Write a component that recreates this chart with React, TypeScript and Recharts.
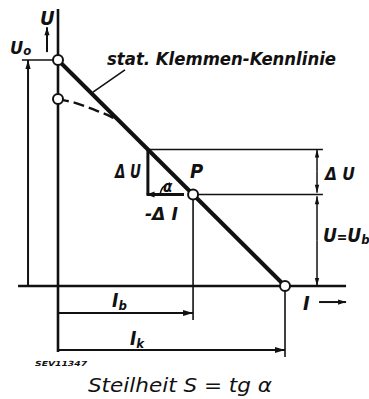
import React from 'react';
import { ComposedChart, Line, XAxis, YAxis, ReferenceLine, ReferenceDot } from 'recharts';

// characteristic values (relative units: U0 = 100, Ik = 100)
const U0 = 100;
const IK = 100;
const IB = 59.5;
const UB = 40.5;
const I_DELTA = 39.6;
const U_DELTA = 60.4;

const lineI = [0, IK];
const lineU = [U0, 0];
const droopI = [0, 6.2, 12.3, 18.5, 22.9, 27.5];
const droopU = [82.7, 81.4, 79.4, 77.0, 75.2, 72.5];

const characteristic = lineI.map((I, k) => ({ I, U: lineU[k] }));
const droop = droopI.map((I, k) => ({ I, U: droopU[k] }));

const X_DOMAIN = [-25.55, 137.0];
const Y_DOMAIN = [-50, 126.55];

const INK = '#111';
const FONT = "'DejaVu Sans Condensed', 'DejaVu Sans', sans-serif";

type ArrowOpts = { w: number; start?: boolean; end?: boolean; head?: number; hw?: number };

function arrowLine(opts: ArrowOpts) {
  return (p: any) => {
    const { x1, y1, x2, y2 } = p;
    const dx = x2 - x1;
    const dy = y2 - y1;
    const len = Math.hypot(dx, dy) || 1;
    const ux = dx / len;
    const uy = dy / len;
    const L = opts.head ?? 9;
    const H = opts.hw ?? 2.6;
    const tri = (tx: number, ty: number, ex: number, ey: number) =>
      `${tx},${ty} ${tx - ex * L - ey * H},${ty - ey * L + ex * H} ${tx - ex * L + ey * H},${ty - ey * L - ex * H}`;
    return (
      <g>
        <line x1={x1} y1={y1} x2={x2} y2={y2} stroke={INK} strokeWidth={opts.w} />
        {opts.end && <polygon points={tri(x2, y2, ux, uy)} fill={INK} />}
        {opts.start && <polygon points={tri(x1, y1, -ux, -uy)} fill={INK} />}
      </g>
    );
  };
}

function txt(content: React.ReactNode, size: number, extra: any = {}) {
  return (p: any) => (
    <text
      x={p.cx}
      y={p.cy}
      fontFamily={FONT}
      fontStyle="italic"
      fontWeight={600}
      fontSize={size}
      fill={INK}
      {...extra}
    >
      {content}
    </text>
  );
}

// small arc marking the angle alpha, drawn relative to the operating point P
const alphaArc = (p: any) => {
  const { cx, cy } = p;
  return (
    <path
      d={`M ${cx - 33} ${cy} A 14 14 0 0 1 ${cx - 23} ${cy - 11.5}`}
      fill="none"
      stroke={INK}
      strokeWidth={1.6}
    />
  );
};

const circle = (p: any) => (
  <circle cx={p.cx} cy={p.cy} r={5} fill="#fff" stroke={INK} strokeWidth={2} />
);

export default function App() {
  const seg = (a: [number, number], b: [number, number], shape: any, key: string) => (
    <ReferenceLine
      key={key}
      segment={[{ x: a[0], y: a[1] }, { x: b[0], y: b[1] }]}
      ifOverflow="visible"
      shape={shape}
    />
  );
  const lbl = (x: number, y: number, shape: any, key: string) => (
    <ReferenceDot key={key} x={x} y={y} r={0} ifOverflow="visible" shape={shape} />
  );

  return (
    <div style={{ position: 'absolute', left: 0, top: 0, background: '#fff' }}>
      <ComposedChart width={369} height={399} margin={{ top: 0, right: 0, bottom: 0, left: 0 }}>
        <XAxis type="number" dataKey="I" domain={X_DOMAIN} hide allowDataOverflow />
        <YAxis type="number" dataKey="U" domain={Y_DOMAIN} hide allowDataOverflow />

        {/* axes */}
        {seg([0, 122.6], [0, -29.2], arrowLine({ w: 2.6 }), 'uaxis')}
        {seg([-17.6, 0], [126.9, 0], arrowLine({ w: 2.4 }), 'iaxis')}
        {seg([-4.85, 103.5], [-4.85, 114.5], arrowLine({ w: 2, end: true, head: 8, hw: 2.6 }), 'uarrow')}
        {seg([115, -7.1], [126.9, -7.1], arrowLine({ w: 2, end: true, head: 8, hw: 2.6 }), 'iarrow')}

        {/* U0 */}
        {seg([-15.9, U0], [0, U0], arrowLine({ w: 1.6 }), 'u0h')}
        {seg([-13.2, 0], [-13.2, U0], arrowLine({ w: 2, end: true, head: 9, hw: 2.6 }), 'u0v')}

        {/* delta construction */}
        {seg([I_DELTA, U_DELTA], [116.7, U_DELTA], arrowLine({ w: 1.5 }), 'hup')}
        {seg([IB, UB], [116.7, UB], arrowLine({ w: 1.5 }), 'hlow')}
        {seg([114.1, UB + 10], [114.1, U_DELTA], arrowLine({ w: 1.5, end: true, head: 8, hw: 2.2 }), 'd1')}
        {seg([114.1, UB + 10], [114.1, UB + 0.8], arrowLine({ w: 1.5, end: true, head: 8, hw: 2.2 }), 'd2')}
        {seg([114.1, 20], [114.1, UB - 0.8], arrowLine({ w: 1.5, end: true, head: 8, hw: 2.2 }), 'd3')}
        {seg([114.1, 20], [114.1, 0], arrowLine({ w: 1.5, end: true, head: 8, hw: 2.2 }), 'd4')}
        {seg([I_DELTA, U_DELTA], [I_DELTA, UB], arrowLine({ w: 3 }), 'dU')}
        {seg([IB - 4, UB], [I_DELTA - 0.6, UB], arrowLine({ w: 3, end: true, head: 8, hw: 3 }), 'dI')}

        {/* operating point projections */}
        {seg([IB, UB], [IB, -15], arrowLine({ w: 1.6 }), 'pv')}
        {seg([0, -12], [IB, -12], arrowLine({ w: 2, end: true, head: 10, hw: 3 }), 'ib')}
        {seg([IK, 0], [IK, -31.4], arrowLine({ w: 1.6 }), 'kv')}
        {seg([0, -28.3], [IK, -28.3], arrowLine({ w: 2, end: true, head: 10, hw: 3 }), 'ik')}

        {/* leader */}
        {seg([29.5, 95.6], [15.4, 85.8], arrowLine({ w: 1.6 }), 'leader')}

        <Line
          data={characteristic}
          dataKey="U"
          type="linear"
          stroke={INK}
          strokeWidth={4}
          dot={false}
          activeDot={false}
          isAnimationActive={false}
        />
        <Line
          data={droop}
          dataKey="U"
          type="monotone"
          stroke={INK}
          strokeWidth={2.4}
          strokeDasharray="11 5"
          dot={false}
          activeDot={false}
          isAnimationActive={false}
        />

        {lbl(IB, UB, alphaArc, 'arc')}

        {lbl(0, U0, circle, 'c1')}
        {lbl(0, droopU[0], circle, 'c2')}
        {lbl(IB, UB, circle, 'c3')}
        {lbl(IK, 0, circle, 'c4')}

        {/* labels */}
        {lbl(-7.9, 115.5, txt('U', 20), 't-u')}
        {lbl(-21.1, 102.5, txt(<><tspan>U</tspan><tspan fontSize={13} dy={1}>o</tspan></>, 18), 't-u0')}
        {lbl(21.6, 97.8, txt('stat. Klemmen-Kennlinie', 18, { textLength: 229, lengthAdjust: 'spacingAndGlyphs' }), 't-stat')}
        {lbl(25.1, 47.8, txt('Δ U', 20, { textLength: 26, lengthAdjust: 'spacingAndGlyphs' }), 't-du')}
        {lbl(58.1, 47.8, txt('P', 20), 't-p')}
        {lbl(38.3, 29.2, txt('-Δ I', 18, { textLength: 33, lengthAdjust: 'spacingAndGlyphs' }), 't-di')}
        {lbl(46.3, 41.8, txt('α', 15, { fontWeight: 700 }), 't-alpha')}
        {lbl(117.6, 46.9, txt('Δ U', 18, { textLength: 30, lengthAdjust: 'spacingAndGlyphs' }), 't-du2')}
        {lbl(116.7, 19.5, txt(<><tspan>U</tspan><tspan fontSize={14}>=</tspan><tspan>U</tspan><tspan fontSize={13} dy={2}>b</tspan></>, 19), 't-ub')}
        {lbl(107.9, -10.6, txt('I', 20), 't-i')}
        {lbl(23.8, -9.3, txt(<><tspan>I</tspan><tspan fontSize={13} dy={3}>b</tspan></>, 19), 't-ib')}
        {lbl(31.7, -26.1, txt(<><tspan>I</tspan><tspan fontSize={13} dy={3}>k</tspan></>, 19), 't-ik')}
        {lbl(-10.1, -35.4, txt('SEV11347', 7, { textLength: 52, lengthAdjust: 'spacingAndGlyphs' }), 't-sev')}
        {lbl(13.2, -46.9, txt(<>Steilheit S = tg α</>, 19, { fontWeight: 400, textLength: 184, lengthAdjust: 'spacingAndGlyphs' }), 't-steil')}
      </ComposedChart>
    </div>
  );
}
